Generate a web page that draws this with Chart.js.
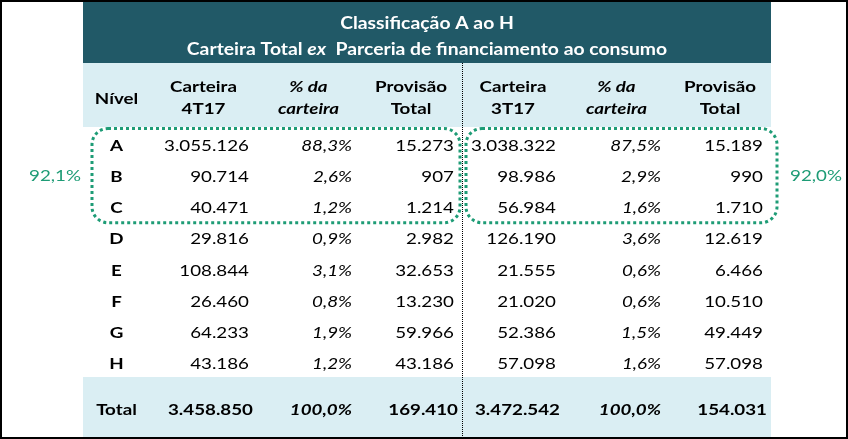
<!DOCTYPE html>
<html><head><meta charset="utf-8">
<script src="https://cdn.jsdelivr.net/npm/chart.js@4.4.1/dist/chart.umd.min.js"></script>
<style>html,body{margin:0;padding:0;background:#fff}#wrap{width:848px;height:439px;position:relative}</style>
</head><body><div id="wrap"><canvas id="c"></canvas></div>
<script>
// ---- data ----
const titleLine1 = 'Classificação A ao H';
const titleLine2 = [['Carteira Total ', false], ['ex', true], ['  Parceria de financiamento ao consumo', false]];
const columnHeaders = [['Nível'], ['Carteira', '4T17'], ['% da', 'carteira'], ['Provisão', 'Total'], ['Carteira', '3T17'], ['% da', 'carteira'], ['Provisão', 'Total']];
const levels = ['A', 'B', 'C', 'D', 'E', 'F', 'G', 'H'];
const carteira4T17 = [3055126, 90714, 40471, 29816, 108844, 26460, 64233, 43186];
const pct4T17 = [88.3, 2.6, 1.2, 0.9, 3.1, 0.8, 1.9, 1.2];
const provisao4T17 = [15273, 907, 1214, 2982, 32653, 13230, 59966, 43186];
const carteira3T17 = [3038322, 98986, 56984, 126190, 21555, 21020, 52386, 57098];
const pct3T17 = [87.5, 2.9, 1.6, 3.6, 0.6, 0.6, 1.5, 1.6];
const provisao3T17 = [15189, 990, 1710, 12619, 6466, 10510, 49449, 57098];
const totalLabel = 'Total';
const totals4T17 = [3458850, 100.0, 169410];
const totals3T17 = [3472542, 100.0, 154031];
const shareAtoC = [92.1, 92.0];

// ---- layout (style) ----
const colWidths = [67, 107, 103, 102, 102, 105, 102];
const rowHeights = [61, 64, 31.25, 31.25, 31.25, 31.25, 31.25, 31.25, 31.25, 31.25, 60];
const colStarts = colWidths.reduce((a, w) => (a.push(a[a.length - 1] + w), a), [0]);
const rowStarts = rowHeights.reduce((a, h) => (a.push(a[a.length - 1] + h), a), [0]);
const DARK = '#215967', LIGHT = '#DAEEF3', GREEN = '#1E9C76', FONT = 'Lato, "Open Sans", sans-serif';

const fmtInt = n => String(n).replace(/\B(?=(\d{3})+(?!\d))/g, '.');
const fmtPct = v => v.toFixed(1).replace('.', ',') + '%';

const tablePlugin = {
  id: 'table',
  afterDraw(chart) {
    const { ctx, scales: { x, y } } = chart;
    const cx = i => x.getPixelForValue(colStarts[i]);
    const ry = i => y.getPixelForValue(rowStarts[i]);
    const left = cx(0), right = cx(colWidths.length);
    const size = 16;
    const f = (w, it, s) => `${it ? 'italic ' : ''}${w} ${s || size}px ${FONT}`;
    ctx.save();
    ctx.font = f('normal', false);
    const sx = 85 / ctx.measureText('3.055.126').width;
    const capH = ctx.measureText('H').actualBoundingBoxAscent;
    ctx.restore();
    const txt = (s, px, cy, align, font, color) => {
      ctx.save();
      ctx.font = font; ctx.fillStyle = color || '#000'; ctx.textAlign = align; ctx.textBaseline = 'alphabetic';
      ctx.translate(px, cy + capH / 2); ctx.scale(sx, 1); ctx.fillText(s, 0, 0);
      ctx.restore();
    };
    // backgrounds
    ctx.fillStyle = DARK; ctx.fillRect(left, ry(0), right - left, ry(1) - ry(0));
    ctx.fillStyle = LIGHT; ctx.fillRect(left, ry(1), right - left, ry(2) - ry(1));
    const last = rowHeights.length - 1;
    ctx.fillRect(left, ry(last), right - left, ry(last + 1) - ry(last));
    // title
    const mid = (left + right) / 2, ts = 16.5;
    txt(titleLine1, mid, ry(0) + 21, 'center', f('bold', false, ts), '#fff');
    ctx.save();
    let tw = 0;
    const widths = titleLine2.map(([s, it]) => { ctx.font = f('bold', it, ts); const w = ctx.measureText(s).width * sx; tw += w; return w; });
    ctx.restore();
    let tx = mid - tw / 2;
    titleLine2.forEach(([s, it], i) => { txt(s, tx, ry(0) + 47, 'left', f('bold', it, ts), '#fff'); tx += widths[i]; });
    // column headers
    columnHeaders.forEach((lines, c) => {
      const hx = (cx(c) + cx(c + 1)) / 2;
      const it = lines[0].startsWith('%');
      if (lines.length === 1) txt(lines[0], hx, ry(1) + 35.5, 'center', f('bold', it));
      else { txt(lines[0], hx, ry(1) + 23, 'center', f('bold', it)); txt(lines[1], hx, ry(1) + 45.5, 'center', f('bold', it)); }
    });
    // body
    const pad = 8;
    const cols = [carteira4T17, pct4T17, provisao4T17, carteira3T17, pct3T17, provisao3T17];
    levels.forEach((lv, r) => {
      const cy = (ry(2 + r) + ry(3 + r)) / 2 + 2.5;
      txt(lv, (cx(0) + cx(1)) / 2, cy, 'center', f('bold', false));
      cols.forEach((arr, c) => {
        const isPct = c % 3 === 1;
        txt(isPct ? fmtPct(arr[r]) : fmtInt(arr[r]), cx(c + 2) - pad, cy, 'right', f('normal', isPct));
      });
    });
    // total row
    const tcy = (ry(last) + ry(last + 1)) / 2 + 2;
    txt(totalLabel, (cx(0) + cx(1)) / 2, tcy, 'center', f('bold', false));
    totals4T17.concat(totals3T17).forEach((v, c) => {
      const isPct = c % 3 === 1;
      txt(isPct ? fmtPct(v) : fmtInt(v), cx(c + 2) - pad + (isPct ? 0 : 4), tcy, 'right', f('bold', isPct));
    });
    // vertical dotted separator
    ctx.save();
    ctx.strokeStyle = '#000'; ctx.lineWidth = 1; ctx.setLineDash([1, 1]);
    ctx.beginPath(); ctx.moveTo(Math.round(cx(4)) + 0.5, ry(1)); ctx.lineTo(Math.round(cx(4)) + 0.5, ry(last + 1)); ctx.stroke();
    ctx.restore();
    // green dotted groups A-C
    ctx.save();
    ctx.strokeStyle = GREEN; ctx.lineWidth = 3; ctx.setLineDash([3, 3]);
    const top = ry(2) + 1.5, bot = ry(5) + 2;
    ctx.beginPath(); ctx.roundRect(cx(0) + 9, top, cx(4) - 2 - (cx(0) + 9), bot - top, 16); ctx.stroke();
    ctx.beginPath(); ctx.roundRect(cx(4) + 4, top, cx(7) + 6 - (cx(4) + 4), bot - top, 16); ctx.stroke();
    ctx.restore();
    const gy = (ry(3) + ry(4)) / 2 + 1.5;
    txt(fmtPct(shareAtoC[0]), left - 28, gy, 'center', f('normal', false), GREEN);
    txt(fmtPct(shareAtoC[1]), right + 45, gy, 'center', f('normal', false), GREEN);
    // outer frame
    ctx.save();
    ctx.strokeStyle = '#000'; ctx.lineWidth = 2;
    ctx.strokeRect(1, 1, chart.width - 2, chart.height - 2);
    ctx.restore();
  }
};

new Chart(document.getElementById('c'), {
  type: 'scatter',
  data: { datasets: [{ data: [], pointRadius: 0 }] },
  options: {
    responsive: true, maintainAspectRatio: false, animation: false,
    layout: { padding: { left: 83, right: 77, top: 2, bottom: 2 } },
    plugins: { legend: { display: false }, tooltip: { enabled: false } },
    scales: {
      x: { type: 'linear', min: 0, max: colStarts[colStarts.length - 1], display: false },
      y: { type: 'linear', min: 0, max: rowStarts[rowStarts.length - 1], reverse: true, display: false }
    }
  },
  plugins: [tablePlugin]
});
</script>
</body></html>
